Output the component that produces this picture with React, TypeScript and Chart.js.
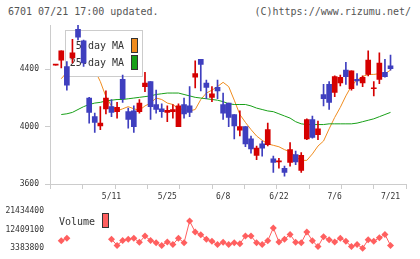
import React, { useEffect, useRef } from 'react';
import { Chart, registerables } from 'chart.js';

Chart.register(...registerables);

// ---- data ----
const openPrices = [4430, 4465, 4420, 4480, 4680, 4600, 4200, 4070, 4005, 4125, 4140, 4105, 4330, 4105, 4110, 4105, 4280, 4315, 4155, 4125, 4100, 4105, 4000, 4155, 4145, 4345, 4470, 4305, 4205, 4275, 4155, 4165, 4085, 3975, 4000, 3915, 3800, 3880, 3875, 3775, 3755, 3710, 3750, 3805, 3695, 3915, 4050, 3945, 4225, 4295, 4240, 4305, 4395, 4265, 4330, 4305, 4365, 4265, 4330, 4380, 4425];
const highPrices = [4430, 4530, 4455, 4610, 4710, 4605, 4205, 4095, 4140, 4250, 4190, 4170, 4360, 4130, 4145, 4190, 4380, 4315, 4255, 4160, 4145, 4155, 4160, 4200, 4280, 4460, 4470, 4325, 4280, 4325, 4235, 4165, 4085, 4110, 4000, 3935, 3865, 3900, 4025, 3795, 3780, 3725, 3890, 3830, 3820, 4055, 4075, 4040, 4295, 4315, 4355, 4360, 4450, 4390, 4370, 4355, 4530, 4315, 4515, 4470, 4500];
const lowPrices = [4430, 4410, 4255, 4445, 4605, 4420, 4025, 3960, 3980, 4090, 4070, 4060, 4170, 3990, 3960, 4095, 4245, 4050, 4095, 4065, 4035, 4060, 4000, 4060, 4070, 4270, 4250, 4195, 4175, 4195, 4050, 4000, 3915, 3935, 3860, 3815, 3770, 3795, 3865, 3680, 3710, 3655, 3725, 3735, 3680, 3910, 3920, 3910, 4145, 4120, 4210, 4285, 4295, 4255, 4290, 4280, 4355, 4215, 4300, 4345, 4395];
const closePrices = [4430, 4530, 4290, 4515, 4625, 4445, 4100, 4030, 4025, 4200, 4100, 4135, 4195, 4050, 4000, 4165, 4305, 4140, 4120, 4105, 4115, 4120, 4145, 4090, 4100, 4370, 4435, 4275, 4230, 4250, 4095, 4065, 4005, 4000, 3880, 3845, 3850, 3850, 3980, 3750, 3760, 3680, 3840, 3755, 3800, 4050, 3925, 3985, 4195, 4170, 4350, 4345, 4350, 4390, 4320, 4345, 4465, 4270, 4445, 4350, 4405];
const ma5 = [null, 4335, 4380, 4420, 4470, 4480, 4420, 4395, 4315, 4210, 4145, 4110, 4125, 4140, 4125, 4115, 4145, 4165, 4200, 4190, 4165, 4155, 4125, 4120, 4110, 4120, 4190, 4235, 4255, 4280, 4310, 4280, 4185, 4085, 4030, 3980, 3935, 3905, 3880, 3870, 3860, 3840, 3825, 3790, 3765, 3765, 3810, 3865, 3900, 3985, 4065, 4135, 4215, 4285, 4325, 4350, 4365, 4365, 4370, 4370, 4395];
const ma25 = [null, 4085, 4090, 4100, 4120, 4140, 4155, 4165, 4170, 4180, 4185, 4190, 4190, 4195, 4200, 4205, 4210, 4215, 4225, 4230, 4235, 4235, 4235, 4225, 4215, 4205, 4200, 4195, 4190, 4185, 4175, 4160, 4155, 4155, 4155, 4145, 4130, 4120, 4110, 4105, 4090, 4075, 4060, 4035, 4020, 4015, 4015, 4015, 4015, 4020, 4020, 4020, 4020, 4020, 4025, 4035, 4045, 4055, 4070, 4085, 4100];
const volumes = [null, 6990000, 8210000, null, null, null, null, null, null, null, 7760000, 4740000, 7130000, 7760000, 8210000, 6230000, 9250000, 7130000, 5960000, 4740000, 6410000, 5190000, 8210000, 5960000, 16470000, 11190000, 9840000, 7760000, 6680000, 5190000, 6230000, 5190000, 5960000, 5510000, 9250000, 9250000, 5960000, 5190000, 6990000, 13180000, 6410000, 7760000, 10020000, 6230000, 5960000, 11190000, 6990000, 4150000, 8930000, 7450000, 6410000, 8210000, 6680000, 4150000, 5190000, 3383800, 7450000, 6680000, 8480000, 10020000, 4740000];
const dateTickIndex = [10, 20, 30, 40, 50, 60];
const dateTickLabels = ['5/11', '5/25', '6/8', '6/22', '7/6', '7/21'];
const priceTicks = [3600, 4000, 4400];
const volumeTicks = [3383800, 12409100, 21434400];

// ---- styles ----
const MONO = '"DejaVu Sans Mono", monospace';
const RED = '#d50000';
const BLUE = '#3f3fbf';
const ORANGE = '#f08c1e';
const GREEN = '#18a018';
const VOL = '#ff5f5f';
const AXIS = '#cccccc';
const TEXT = '#333333';
const X_MIN = -1.02;
const X_MAX = 62.72;
const PRICE_MIN = 3600;
const PRICE_MAX = 4710;
const X_DIVISIONS = 11;

export default function App() {
  const mainRef = useRef<HTMLCanvasElement>(null);
  const volRef = useRef<HTMLCanvasElement>(null);

  useEffect(() => {
    const idx = openPrices.map((_, i) => i);
    const candleColor = openPrices.map((o, i) => (closePrices[i] >= o ? RED : BLUE));

    const xTickMarks = {
      id: 'xTickMarks',
      afterDraw(chart: any) {
        const { ctx, chartArea: a } = chart;
        ctx.save();
        ctx.strokeStyle = AXIS;
        ctx.lineWidth = 1;
        for (let k = 0; k <= X_DIVISIONS; k++) {
          const x = Math.round(a.left + ((a.right - a.left) * k) / X_DIVISIONS) + 0.5;
          ctx.beginPath();
          ctx.moveTo(x, a.bottom);
          ctx.lineTo(x, a.bottom + 5);
          ctx.stroke();
        }
        ctx.restore();
      },
    };

    const maLegend = {
      id: 'maLegend',
      beforeDatasetDraw(chart: any, args: any) {
        if (chart.data.datasets[args.index].label !== 'wick') return;
        const { ctx, chartArea: a } = chart;
        const lx = a.left + 15;
        const ty = a.top + 5;
        ctx.save();
        ctx.fillStyle = '#ffffff';
        ctx.fillRect(lx + 0.5, ty + 0.5, 77, 46);
        ctx.strokeStyle = AXIS;
        ctx.lineWidth = 1;
        ctx.strokeRect(lx + 0.5, ty + 0.5, 77, 46);
        ctx.font = `10px ${MONO}`;
        ctx.fillStyle = TEXT;
        ctx.textAlign = 'right';
        ctx.textBaseline = 'middle';
        ctx.fillText('5-day MA', lx + 59, ty + 16);
        ctx.fillText('25-day MA', lx + 59, ty + 33);
        ctx.strokeStyle = '#333';
        ctx.fillStyle = ORANGE;
        ctx.fillRect(lx + 66.5, ty + 8.5, 6, 14);
        ctx.strokeRect(lx + 66.5, ty + 8.5, 6, 14);
        ctx.fillStyle = GREEN;
        ctx.fillRect(lx + 66.5, ty + 25.5, 6, 14);
        ctx.strokeRect(lx + 66.5, ty + 25.5, 6, 14);
        ctx.restore();
      },
    };

    const volLegend = {
      id: 'volLegend',
      afterDraw(chart: any) {
        const { ctx } = chart;
        ctx.save();
        ctx.font = `10px ${MONO}`;
        ctx.fillStyle = TEXT;
        ctx.textAlign = 'left';
        ctx.textBaseline = 'middle';
        ctx.fillText('Volume', 59, 22);
        ctx.fillStyle = VOL;
        ctx.fillRect(102.5, 13.5, 6, 14);
        ctx.strokeStyle = '#333';
        ctx.lineWidth = 1;
        ctx.strokeRect(102.5, 13.5, 6, 14);
        ctx.restore();
      },
    };

    const tickFont = { family: MONO, size: 8 };

    const main = new Chart(mainRef.current as HTMLCanvasElement, {
      type: 'bar',
      data: {
        datasets: [
          {
            type: 'line',
            label: 'ma5',
            data: idx.map((i) => ({ x: i, y: ma5[i] })),
            borderColor: ORANGE,
            borderWidth: 1,
            pointRadius: 0,
            order: 4,
          } as any,
          {
            type: 'line',
            label: 'ma25',
            data: idx.map((i) => ({ x: i, y: ma25[i] })),
            borderColor: GREEN,
            borderWidth: 1,
            pointRadius: 0,
            order: 3,
          } as any,
          {
            type: 'bar',
            label: 'wick',
            data: idx.map((i) => ({ x: i, y: [lowPrices[i], highPrices[i]] })),
            backgroundColor: candleColor,
            barThickness: 1,
            grouped: false,
            order: 2,
          } as any,
          {
            type: 'bar',
            label: 'body',
            data: idx.map((i) => ({ x: i, y: [openPrices[i], closePrices[i]] })),
            backgroundColor: candleColor,
            barThickness: 5,
            minBarLength: 1,
            grouped: false,
            order: 1,
          } as any,
        ],
      },
      options: {
        responsive: false,
        animation: false,
        layout: { padding: { top: 25, right: 14.3, left: 0, bottom: 0 } },
        plugins: { legend: { display: false }, tooltip: { enabled: false } },
        scales: {
          x: {
            type: 'linear',
            min: X_MIN,
            max: X_MAX,
            offset: false,
            grid: { display: false, drawTicks: false },
            border: { color: AXIS },
            afterFit: (s: any) => {
              s.height = 16;
            },
            afterBuildTicks: (s: any) => {
              s.ticks = dateTickIndex.map((v) => ({ value: v }));
            },
            ticks: {
              autoSkip: false,
              maxRotation: 0,
              padding: 8,
              color: TEXT,
              font: tickFont,
              callback: (_v: any, i: number) => dateTickLabels[i],
            },
          },
          y: {
            type: 'linear',
            min: PRICE_MIN,
            max: PRICE_MAX,
            beginAtZero: false,
            afterFit: (s: any) => {
              s.width = 50;
            },
            afterBuildTicks: (s: any) => {
              s.ticks = priceTicks.map((v) => ({ value: v }));
            },
            grid: { drawOnChartArea: false, tickLength: 5, color: AXIS },
            border: { color: AXIS },
            ticks: { padding: 6, color: TEXT, font: tickFont, callback: (v: any) => String(v) },
          },
        },
      } as any,
      plugins: [xTickMarks, maLegend],
    });

    const vol = new Chart(volRef.current as HTMLCanvasElement, {
      type: 'line',
      data: {
        datasets: [
          {
            data: idx.map((i) => ({ x: i, y: volumes[i] })),
            borderColor: VOL,
            backgroundColor: VOL,
            borderWidth: 1,
            pointStyle: 'rectRot',
            pointRadius: 3.5,
            pointBorderWidth: 0,
            pointBackgroundColor: VOL,
            clip: false,
          } as any,
        ],
      },
      options: {
        responsive: false,
        animation: false,
        layout: { padding: { top: 9, right: 14.3, left: 0, bottom: 10 } },
        plugins: { legend: { display: false }, tooltip: { enabled: false } },
        scales: {
          x: { type: 'linear', min: X_MIN, max: X_MAX, display: false },
          y: {
            type: 'linear',
            min: volumeTicks[0],
            max: volumeTicks[volumeTicks.length - 1],
            afterFit: (s: any) => {
              s.width = 50;
            },
            afterBuildTicks: (s: any) => {
              s.ticks = volumeTicks.map((v) => ({ value: v }));
            },
            grid: { display: false, drawTicks: false },
            border: { display: false },
            ticks: { padding: 6, color: TEXT, font: tickFont, callback: (v: any) => String(v) },
          },
        },
      } as any,
      plugins: [volLegend],
    });

    return () => {
      main.destroy();
      vol.destroy();
    };
  }, []);

  const headStyle: React.CSSProperties = {
    position: 'absolute',
    top: 6,
    fontFamily: MONO,
    fontSize: 10,
    lineHeight: '12px',
    color: '#555',
    whiteSpace: 'nowrap',
  };

  return (
    <div style={{ position: 'fixed', left: 0, top: 0, width: 420, height: 259, background: '#fff', overflow: 'hidden' }}>
      <div style={{ ...headStyle, left: 8 }}>6701 07/21 17:00 updated.</div>
      <div style={{ ...headStyle, right: 9 }}>(C)https://www.rizumu.net/</div>
      <canvas ref={mainRef} width={420} height={200} style={{ position: 'absolute', left: 0, top: 0, width: 420, height: 200 }} />
      <canvas ref={volRef} width={420} height={59} style={{ position: 'absolute', left: 0, top: 200, width: 420, height: 59 }} />
    </div>
  );
}
